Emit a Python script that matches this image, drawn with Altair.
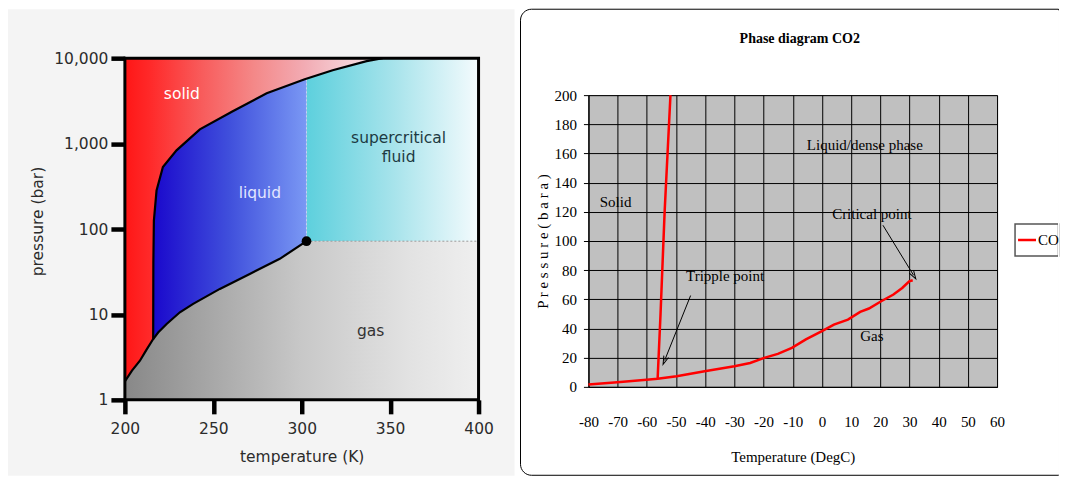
import math
import altair as alt
import pandas as pd

# ---------------- Left panel: CO2 phase diagram (temperature K, pressure bar) -------------
sub_T = [200.0, 204.0, 208.5, 212.0, 216.0]
sub_P = [1.65, 2.2, 2.87, 3.8, 5.15]
melt_T = [216.0, 216.1, 216.4, 217.9, 221.5, 229.2, 242.4, 261.0, 280.2, 301.7, 317.5, 336.7, 345.8]
melt_P = [5.15, 40.0, 126.0, 282.0, 531.0, 834.0, 1469.0, 2390.0, 3880.0, 5675.0, 7230.0, 9230.0, 10000.0]
vap_T = [216.0, 218.8, 223.6, 231.1, 238.6, 253.7, 270.6, 287.6, 302.7]
vap_P = [5.15, 6.15, 7.73, 10.6, 13.3, 19.9, 29.8, 44.8, 72.0]
crit_T = 302.7
crit_P = 72.0
crit_melt_P = 5750.0
T_lo, T_hi = 200, 400
P_lo, P_hi = 1, 10000
left_xticks = [200, 250, 300, 350, 400]
left_yticks = [1, 10, 100, 1000, 10000]
left_labels = ["solid", "liquid", "supercritical", "fluid", "gas"]
left_label_T = [232.2, 276.3, 354.8, 354.8, 339.0]
left_label_P = [3784, 261, 1153, 690, 6.45]
left_label_col = ["#ffffff", "#e2e6ff", "#1d3a42", "#1d3a42", "#333333"]

# ---------------- Right panel: CO2 phase diagram (DegC, bara) -------------
r_vap_T = [-80, -70.1, -60.1, -56.3, -49.8, -40.2, -30, -24.6, -19.8, -15.1, -10.3, -5.5,
           0, 4.1, 8.9, 13.1, 16.1, 20.3, 24.5, 27.5, 29.9, 31.1]
r_vap_P = [1.6, 3.2, 4.8, 5.5, 7.3, 10.7, 14.2, 16.4, 19.9, 22.6, 26.7, 32.5,
           38.2, 42.7, 46.1, 51.4, 53.7, 58.7, 63.3, 67.8, 72.4, 73.1]
r_melt_T = [-56.3, -55.3, -53.9, -51.9]
r_melt_P = [5.5, 50, 120, 200]
r_xticks = list(range(-80, 61, 10))
r_yticks = list(range(0, 201, 20))
r_labels = ["Solid", "Liquid/dense phase", "Critical point", "Tripple point", "Gas"]
r_label_T = [-70.7, 14.7, 17.1, -33.2, 17.1]
r_label_P = [127, 165.5, 118.8, 75.8, 35.2]
arrow_T1 = [-45.0, 20.9]
arrow_P1 = [62.6, 110.8]
arrow_T2 = [-53.9, 31.4]
arrow_P2 = [18.1, 76.5]
legend_label = "CO2"

# ---------------- Left chart -----------------
LW = 354
LH = 305          # group height (x axis sits here)
LTOP = -37        # top of the pressure range, above the group origin
SANS = "DejaVu Sans"
lx_scale = alt.Scale(domain=[T_lo, T_hi], nice=False, zero=False)
ly_scale = alt.Scale(type="log", domain=[P_lo, P_hi], nice=False, range=[LH, LTOP])
lx_axis = alt.Axis(values=left_xticks, title="temperature (K)", tickSize=14, tickWidth=4.5,
                   tickColor="black", domain=False, grid=False, labelFont=SANS, labelFontSize=15.5,
                   labelColor="#2b2b2b", labelPadding=8, labelFlush=False, titleFont=SANS,
                   titleFontSize=15.5, titleFontWeight="normal", titleColor="#2b2b2b",
                   titlePadding=12, zindex=1)
ly_axis = alt.Axis(values=left_yticks, format=",", title="pressure (bar)", tickSize=14, tickWidth=4.5,
                   tickColor="black", domain=False, grid=False, labelFont=SANS, labelFontSize=15.5,
                   labelColor="#2b2b2b", labelPadding=3, titleFont=SANS, titleFontSize=15.5,
                   titleFontWeight="normal", titleColor="#2b2b2b", titlePadding=8, titleY=126,
                   zindex=1)


def LX(f):
    return alt.X(f, scale=lx_scale, axis=lx_axis)


def LY(f):
    return alt.Y(f, scale=ly_scale, axis=ly_axis)


def grad(stops):
    return alt.Gradient(gradient="linear", x1=0, x2=1, y1=0, y2=0,
                        stops=[alt.GradientStop(color=c, offset=o) for o, c in stops])


one = pd.DataFrame({"a": [0]})
bg = alt.Chart(one).mark_rect(color="#f4f4f4").encode(
    x=alt.value(-117), x2=alt.value(390), y=alt.value(-86), y2=alt.value(381))

sc_df = pd.DataFrame({"T": [crit_T], "T2": [T_hi], "P": [crit_P], "P2": [P_hi]})
supercrit = alt.Chart(sc_df).mark_rect(
    fill=grad([(0, "#5dd0dd"), (0.5, "#a6e3eb"), (1, "#f4fbfd")])
).encode(x=LX("T:Q"), x2="T2:Q", y=LY("P:Q"), y2="P2:Q")

liq_df = pd.DataFrame({"T": [melt_T[0]], "T2": [crit_T], "P": [vap_P[0]], "P2": [P_hi]})
liquid = alt.Chart(liq_df).mark_rect(
    fill=grad([(0, "#1a08cc"), (0.5, "#4050dc"), (1, "#7a98f4")])
).encode(x=LX("T:Q"), x2="T2:Q", y=LY("P:Q"), y2="P2:Q")

gas_df = pd.DataFrame({"T": sub_T + vap_T[1:] + [T_hi], "P": sub_P + vap_P[1:] + [crit_P]})
gas_df["Pmin"] = P_lo
gas = alt.Chart(gas_df).mark_area(
    color=grad([(0, "#888888"), (0.5, "#c8c8c8"), (0.8, "#e2e2e2"), (1, "#efefef")])
).encode(x=LX("T:Q"), y=LY("P:Q"), y2="Pmin:Q")

sol_df = pd.DataFrame({"T": sub_T + melt_T[1:], "P": sub_P + melt_P[1:]})
sol_df["Tmin"] = T_lo
solid = alt.Chart(sol_df).mark_area(
    orient="horizontal",
    color=grad([(0, "#ff1616"), (0.1, "#ff2a2a"), (0.3, "#f85c5c"), (0.5, "#f48888"),
                (0.7, "#f2acb4"), (0.85, "#f5ccd2"), (1, "#fae6e8")])
).encode(y=LY("P:Q"), x=LX("Tmin:Q"), x2="T:Q")

vline_df = pd.DataFrame({"T": [crit_T], "P": [crit_P], "P2": [crit_melt_P]})
vline = alt.Chart(vline_df).mark_rule(color="#c9d3f2", strokeWidth=1, strokeDash=[2, 2]).encode(
    x=LX("T:Q"), y=LY("P:Q"), y2="P2:Q")
hline_df = pd.DataFrame({"T": [crit_T], "T2": [T_hi], "P": [crit_P]})
hline = alt.Chart(hline_df).mark_rule(color="#999999", strokeWidth=1, strokeDash=[2, 2]).encode(
    x=LX("T:Q"), x2="T2:Q", y=LY("P:Q"))

b1 = pd.DataFrame({"T": sub_T + melt_T[1:], "P": sub_P + melt_P[1:]})
b1["i"] = range(len(b1))
line1 = alt.Chart(b1).mark_line(color="black", strokeWidth=2.2).encode(
    x=LX("T:Q"), y=LY("P:Q"), order="i:Q")
b2 = pd.DataFrame({"T": vap_T, "P": vap_P})
b2["i"] = range(len(b2))
line2 = alt.Chart(b2).mark_line(color="black", strokeWidth=2.2).encode(
    x=LX("T:Q"), y=LY("P:Q"), order="i:Q")

cp = alt.Chart(pd.DataFrame({"T": [crit_T], "P": [crit_P]})).mark_point(
    filled=True, color="black", size=95, opacity=1).encode(x=LX("T:Q"), y=LY("P:Q"))

lab_df = pd.DataFrame({"T": left_label_T, "P": left_label_P, "t": left_labels, "c": left_label_col})
labs = alt.Chart(lab_df).mark_text(font=SANS, fontSize=15.5).encode(
    x=LX("T:Q"), y=LY("P:Q"), text="t:N", color=alt.Color("c:N", scale=None))

fr_df = pd.DataFrame({"T": [T_lo], "T2": [T_hi], "P": [P_lo], "P2": [P_hi]})
frame = alt.Chart(fr_df).mark_rect(filled=False, stroke="black", strokeWidth=3).encode(
    x=LX("T:Q"), x2="T2:Q", y=LY("P:Q"), y2="P2:Q")

left = alt.layer(bg, supercrit, liquid, gas, solid, vline, hline, line1, line2, cp, labs, frame).properties(
    width=LW, height=LH, view=alt.ViewBackground(stroke="transparent", fill="transparent"))

# ---------------- Right chart -----------------
RW, RH = 409, 292
SERIF = "Liberation Serif"
rx_scale = alt.Scale(domain=[-80, 60], nice=False, zero=False)
ry_scale = alt.Scale(domain=[0, 200], nice=False)
rx_axis = alt.Axis(values=r_xticks, title="Temperature (DegC)", grid=True, gridColor="black",
                   gridWidth=1, gridOpacity=1, domainColor="black", domainWidth=1, ticks=False,
                   tickSize=0, labelPadding=28, labelFont=SERIF, labelFontSize=15, labelColor="black",
                   labelFlush=False, labelOverlap=False, labelExpr="toString(datum.value)",
                   titleFont=SERIF, titleFontSize=15,
                   titleFontWeight="normal", titleColor="black", titlePadding=20)
ry_axis = alt.Axis(values=r_yticks, title="P r e s s u r e   ( b a r a )", grid=True, gridColor="black",
                   gridWidth=1, gridOpacity=1, domainColor="black", domainWidth=1, tickSize=5,
                   tickColor="black", labelPadding=7, labelFont=SERIF, labelFontSize=15,
                   labelColor="black", labelOverlap=False, titleFont=SERIF, titleFontSize=15,
                   titleFontWeight="normal", titleColor="black", titlePadding=3)


def RX(f):
    return alt.X(f, scale=rx_scale, axis=rx_axis)


def RY(f):
    return alt.Y(f, scale=ry_scale, axis=ry_axis)


RIGHT_EDGE = 470.5
rframe = alt.Chart(one).mark_rect(filled=False, stroke="black", strokeWidth=1,
                                  cornerRadiusTopLeft=11, cornerRadiusBottomLeft=11).encode(
    x=alt.value(-68), x2=alt.value(RIGHT_EDGE), y=alt.value(-86), y2=alt.value(380.5))

seg_v = pd.DataFrame({"T": r_vap_T, "P": r_vap_P, "seg": "vap"})
seg_m = pd.DataFrame({"T": r_melt_T, "P": r_melt_P, "seg": "melt"})
rl = pd.concat([seg_v, seg_m], ignore_index=True)
rl["i"] = range(len(rl))
rlines = alt.Chart(rl).mark_line(strokeWidth=2.5, color="#ff0000").encode(
    x=RX("T:Q"), y=RY("P:Q"), detail="seg:N", order="i:Q")

rlab_df = pd.DataFrame({"T": r_label_T, "P": r_label_P, "t": r_labels})
rlabs = alt.Chart(rlab_df).mark_text(font=SERIF, fontSize=15, color="black").encode(
    x=RX("T:Q"), y=RY("P:Q"), text="t:N")

px_per_T = RW / 140.0
px_per_P = RH / 200.0
angles = []
for t1, p1, t2, p2 in zip(arrow_T1, arrow_P1, arrow_T2, arrow_P2):
    dx = (t2 - t1) * px_per_T
    dy = -(p2 - p1) * px_per_P
    angles.append(math.degrees(math.atan2(dx, -dy)) % 360)
arr_df = pd.DataFrame({"T1": arrow_T1, "P1": arrow_P1, "T2": arrow_T2, "P2": arrow_P2, "ang": angles})
arules = alt.Chart(arr_df).mark_rule(color="black", strokeWidth=1).encode(
    x=RX("T1:Q"), y=RY("P1:Q"), x2="T2:Q", y2="P2:Q")
aheads = alt.Chart(arr_df).mark_point(shape="M-0.6,1L0,-1L0.6,1", filled=False, color="black",
                                      strokeWidth=1, size=70, opacity=1).encode(
    x=RX("T2:Q"), y=RY("P2:Q"), angle=alt.Angle("ang:Q", scale=None))

# legend box (cut by the right edge of the picture, as in the reference)
leg_box = alt.Chart(one).mark_rect(fill="white", stroke="#555555", strokeWidth=1.5).encode(
    x=alt.value(427), x2=alt.value(RIGHT_EDGE), y=alt.value(129), y2=alt.value(161))
leg_sym = alt.Chart(one).mark_rule(color="#ff0000", strokeWidth=2.5).encode(
    x=alt.value(430), x2=alt.value(448), y=alt.value(145))
leg_txt = alt.Chart(pd.DataFrame({"t": [legend_label]})).mark_text(
    font=SERIF, fontSize=15, color="black", align="left", baseline="middle", limit=21.5,
    ellipsis="\u200b"
).encode(x=alt.value(450), y=alt.value(145), text="t:N")
edge_mask = alt.Chart(one).mark_rule(color="white", strokeWidth=1).encode(
    x=alt.value(RIGHT_EDGE), y=alt.value(-85), y2=alt.value(380))

right = alt.layer(rframe, rlines, arules, aheads, rlabs, leg_box, leg_sym, edge_mask, leg_txt).properties(
    width=RW, height=RH,
    view=alt.ViewBackground(fill="#c0c0c0", stroke="#777777", strokeWidth=1),
    title=alt.TitleParams("Phase diagram CO2", font=SERIF, fontSize=14, fontWeight="bold",
                          color="black", anchor="middle", frame="group", dx=7, offset=-51,
                          baseline="bottom"))

chart = alt.hconcat(left, right, spacing=5).properties(padding=0, background="white").configure_view(
    strokeWidth=0)

chart.save("out.html", embed_options={"renderer": "svg", "actions": False})
